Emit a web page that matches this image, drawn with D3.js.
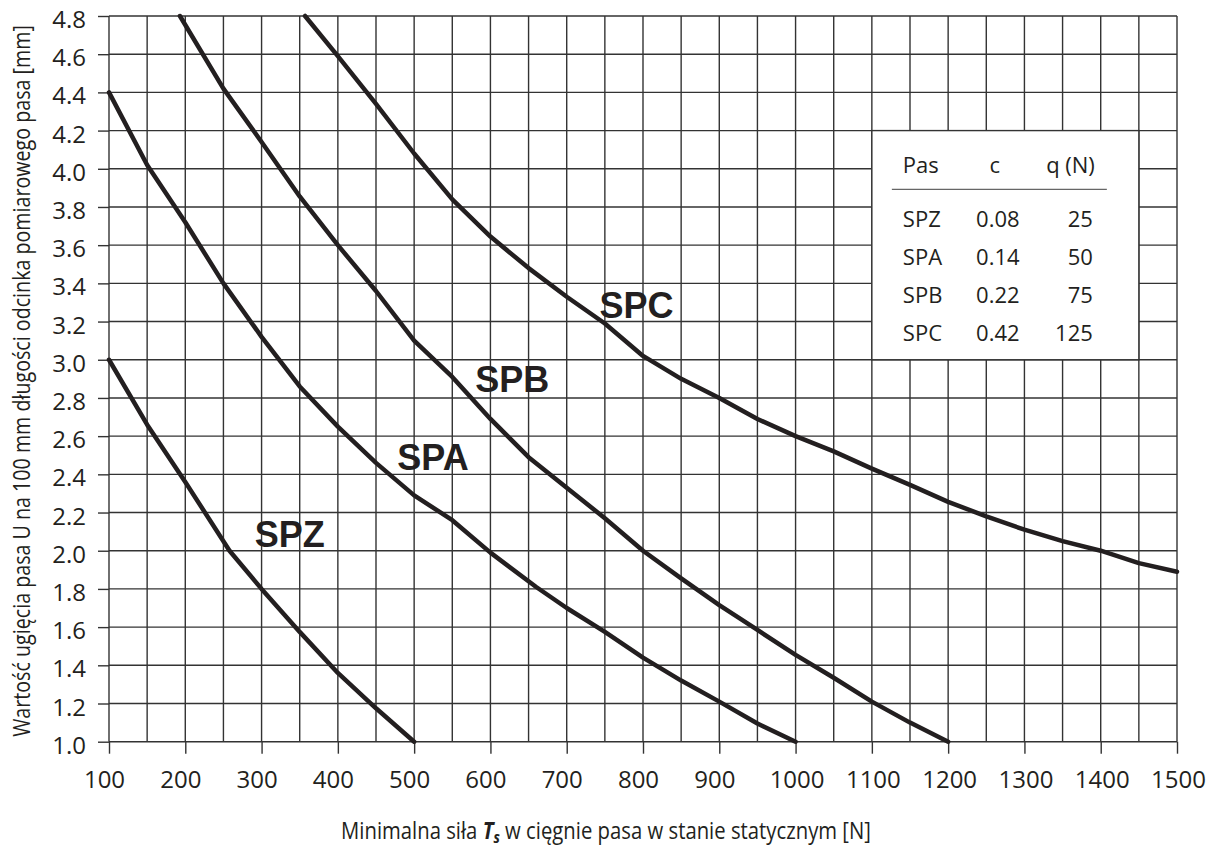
<!DOCTYPE html>
<html>
<head>
<meta charset="utf-8">
<script src="https://cdn.jsdelivr.net/npm/d3@7"></script>
<style>
  html, body { margin: 0; padding: 0; background: #fff; }
  svg { display: block; }
</style>
</head>
<body>
<svg id="chart" width="1212" height="847"></svg>
<script>
// ---------- data ----------
const xTickValues = [100,200,300,400,500,600,700,800,900,1000,1100,1200,1300,1400,1500];
const xGridValues = [100,150,200,250,300,350,400,450,500,550,600,650,700,750,800,850,900,950,1000,1050,1100,1150,1200,1250,1300,1350,1400,1450,1500];
const yTickValues = [1.0,1.2,1.4,1.6,1.8,2.0,2.2,2.4,2.6,2.8,3.0,3.2,3.4,3.6,3.8,4.0,4.2,4.4,4.6,4.8];

const spzX = [100,150,200,258,300,350,400,450,500];
const spzY = [3.0,2.66,2.36,2.0,1.80,1.575,1.36,1.175,1.0];

const spaX = [100,150,200,250,300,350,400,450,500,550,600,660,700,750,800,850,900,950,1000];
const spaY = [4.4,4.02,3.72,3.40,3.12,2.86,2.65,2.46,2.29,2.16,1.99,1.81,1.70,1.575,1.44,1.32,1.21,1.095,1.0];

const spbX = [193,250,300,350,400,450,500,550,600,650,700,750,800,850,900,950,1000,1050,1100,1150,1200];
const spbY = [4.8,4.42,4.14,3.855,3.6,3.36,3.1,2.91,2.69,2.49,2.33,2.17,2.0,1.855,1.715,1.585,1.455,1.335,1.21,1.1,1.0];

const spcX = [357,400,450,500,550,600,650,700,750,800,850,900,950,1000,1050,1100,1150,1200,1250,1300,1350,1400,1450,1500];
const spcY = [4.8,4.59,4.34,4.08,3.84,3.645,3.48,3.33,3.19,3.02,2.9,2.8,2.69,2.6,2.52,2.43,2.345,2.256,2.18,2.11,2.05,2.0,1.935,1.89];

const curveNames = ["SPZ","SPA","SPB","SPC"];
const labelX = [291,478,580,743];
const labelY = [2.02,2.425,2.832,3.22];

const tableHeader = ["Pas","c","q (N)"];
const tablePas = ["SPZ","SPA","SPB","SPC"];
const tableC = ["0.08","0.14","0.22","0.42"];
const tableQ = ["25","50","75","125"];
const tableBoxX = [1100,1450];
const tableBoxY = [3.0,4.2];

const xTitleParts = ["Minimalna siła ", "T", "s", " w cięgnie pasa w stanie statycznym [N]"];
const yTitle = "Wartość ugięcia pasa U na 100 mm długości odcinka pomiarowego pasa [mm]";

// ---------- drawing ----------
(function () {
const INK = "#231f20";
const GRID = "#333";
const FONT = "'Open Sans', 'Noto Sans', sans-serif";
const pL = 109, pR = 1177, pT = 16, pB = 741.7;

const svg = d3.select("#chart");
const x = d3.scaleLinear().domain([100,1500]).range([pL,pR]);
const y = d3.scaleLinear().domain([1.0,4.8]).range([pB,pT]);

// grid
const grid = svg.append("g").attr("stroke", GRID).attr("stroke-width", 1.4);
grid.selectAll("line.v").data(xGridValues).join("line").attr("class","v")
  .attr("x1", d => x(d)).attr("x2", d => x(d))
  .attr("y1", y(4.8)).attr("y2", y(1.0));
grid.selectAll("line.h").data(yTickValues).join("line").attr("class","h")
  .attr("x1", x(100)).attr("x2", x(1500))
  .attr("y1", d => y(d)).attr("y2", d => y(d));

// axes
const xAxis = d3.axisBottom(x).tickValues(xTickValues).tickSize(12).tickPadding(17)
  .tickFormat(d3.format("d"));
const gx = svg.append("g").attr("transform", `translate(0,${pB})`).call(xAxis);
gx.select(".domain").remove();
gx.selectAll(".tick line").attr("stroke", GRID).attr("stroke-width", 1.4);
gx.selectAll(".tick text")
  .attr("font-family", FONT).attr("font-size", 24).attr("fill", INK)
  .attr("dx", d => d < 1000 ? -5 : 1);

const yAxis = d3.axisLeft(y).tickValues(yTickValues).tickSize(11).tickPadding(12)
  .tickFormat(d3.format(".1f"));
const gy = svg.append("g").attr("transform", `translate(${pL},0)`).call(yAxis);
gy.select(".domain").remove();
gy.selectAll(".tick line").attr("stroke", GRID).attr("stroke-width", 1.4);
gy.selectAll(".tick text")
  .attr("font-family", FONT).attr("font-size", 24).attr("fill", INK)
  .attr("dy", "0.48em");

// table box
const bx0 = x(tableBoxX[0]), bx1 = x(tableBoxX[1]);
const by0 = y(tableBoxY[1]), by1 = y(tableBoxY[0]);
svg.append("rect")
  .attr("x", bx0).attr("y", by0).attr("width", bx1 - bx0).attr("height", by1 - by0)
  .attr("fill", "#fff").attr("stroke", GRID).attr("stroke-width", 1.4);

const tbl = svg.append("g").attr("font-family", FONT).attr("font-size", 22).attr("fill", INK);
const colPas = bx0 + 31, colC = bx0 + 126, colQ = bx0 + 223;
const headBase = by0 + 42.5;
tbl.append("text").attr("x", colPas).attr("y", headBase).text(tableHeader[0]);
tbl.append("text").attr("x", colC - 3).attr("y", headBase).attr("text-anchor","middle").text(tableHeader[1]);
tbl.append("text").attr("x", colQ).attr("y", headBase).attr("text-anchor","end").text(tableHeader[2]);
svg.append("line")
  .attr("x1", bx0 + 20).attr("x2", bx0 + 235)
  .attr("y1", by0 + 58.7).attr("y2", by0 + 58.7)
  .attr("stroke", "#666").attr("stroke-width", 1.3);
tablePas.forEach((p, i) => {
  const base = by0 + 96 + i * 38.1;
  tbl.append("text").attr("x", colPas).attr("y", base).text(p);
  tbl.append("text").attr("x", colC).attr("y", base).attr("text-anchor","middle").text(tableC[i]);
  tbl.append("text").attr("x", colQ - 2).attr("y", base).attr("text-anchor","end").text(tableQ[i]);
});

// curves
const series = [
  {name: "SPZ", xs: spzX, ys: spzY},
  {name: "SPA", xs: spaX, ys: spaY},
  {name: "SPB", xs: spbX, ys: spbY},
  {name: "SPC", xs: spcX, ys: spcY}
];
const line = d3.line().x(d => x(d[0])).y(d => y(d[1])).curve(d3.curveLinear);
svg.append("g").selectAll("path").data(series).join("path")
  .attr("d", s => line(s.xs.map((v, i) => [v, s.ys[i]])))
  .attr("fill", "none").attr("stroke", INK).attr("stroke-width", 4.5)
  .attr("stroke-linejoin", "round").attr("stroke-linecap", "round");

// curve labels
svg.append("g").selectAll("text").data(curveNames).join("text")
  .attr("x", (d, i) => x(labelX[i])).attr("y", (d, i) => y(labelY[i]))
  .attr("font-family", "'Liberation Sans', Arial, sans-serif")
  .attr("font-weight", "bold").attr("font-size", 36).attr("fill", INK)
  .text(d => d);

// x title
const xt = svg.append("g");
const xtText = xt.append("text")
  .attr("font-family", FONT).attr("font-size", 24).attr("fill", INK)
  .attr("text-anchor", "middle").attr("x", 0).attr("y", 0);
xtText.append("tspan").text(xTitleParts[0]);
xtText.append("tspan").attr("font-weight", "bold").attr("font-style", "italic").text(xTitleParts[1]);
xtText.append("tspan").attr("font-weight", "bold").attr("font-style", "italic")
  .attr("font-size", 16).attr("dy", 4).text(xTitleParts[2]);
xtText.append("tspan").attr("dy", -4).text(xTitleParts[3]);
const xw = xtText.node().getComputedTextLength();
xt.attr("transform", `translate(606,839) scale(${530 / xw},1)`);

// y title
const yt = svg.append("g");
const ytText = yt.append("text")
  .attr("font-family", FONT).attr("font-size", 23).attr("fill", INK)
  .attr("text-anchor", "middle").attr("x", 0).attr("y", 0)
  .text(yTitle);
const yw = ytText.node().getComputedTextLength();
yt.attr("transform", `translate(29.5,381) rotate(-90) scale(${712 / yw},1)`);
})();
</script>
</body>
</html>
